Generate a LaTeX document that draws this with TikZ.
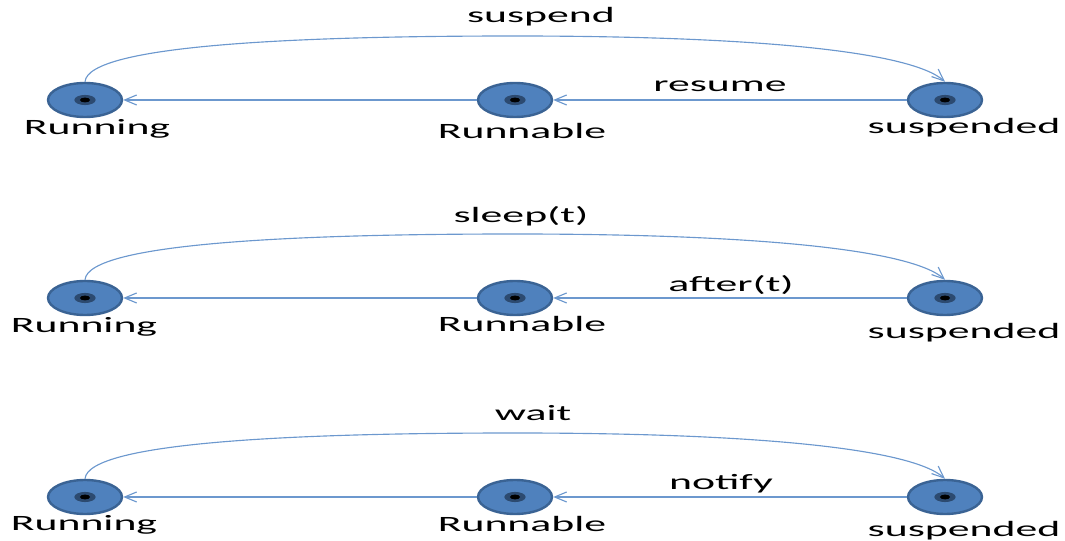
\documentclass[tikz,border=0pt]{standalone}
\usepackage{fontspec}
\usetikzlibrary{shapes.geometric,arrows.meta}
\newfontfamily\lblfont{Carlito}[FakeStretch=2.0]

\definecolor{stateblue}{HTML}{4F81BD}
\definecolor{stateedge}{HTML}{3A6394}
\definecolor{statecore}{HTML}{2C4A70}
\definecolor{linkblue}{HTML}{6C98CE}

\tikzset{
  state/.style={ellipse, fill=stateblue, draw=stateedge, line width=1.8pt,
    minimum width=55.5pt, minimum height=25.5pt, inner sep=0pt,
    path picture={
      \fill[statecore] (path picture bounding box.center) ellipse (8pt and 3.8pt);
      \fill[black] (path picture bounding box.center) ellipse (3.8pt and 1.8pt);
    }},
  lbl/.style={anchor=base, inner sep=0pt, font=\lblfont\fontsize{16.4pt}{19pt}\selectfont},
  conn/.style={draw=linkblue, line width=0.85pt,
    -{Straight Barb[length=9pt,width=7.5pt,line width=0.85pt]}},
}

\begin{document}
\begin{tikzpicture}[x=0.75pt, y=-0.75pt]
\useasboundingbox (0,0) rectangle (1065,541);

% three rows: Running <- Runnable <- suspended, with an arc Running -> suspended
\foreach \r/\dy/\top/\back/\tx/\ty/\bx/\by/\rlx/\rly/\nly/\sly in {
    1/0/suspend/resume/541/23/720/92/97/135/139/134,
    2/198/sleep(t)/after(t)/521/223/731/292/84/333/332/339,
    3/397/wait/notify/533/421/721/490/84/531/532/537}{
  \node[state] (run\r) at (85,100+\dy) {};
  \node[state] (rnb\r) at (515,100+\dy) {};
  \node[state] (sus\r) at (945,100+\dy) {};
  \coordinate (peak\r) at (515,36+\dy);

  \node[lbl] (runl\r) at (\rlx,\rly) {Running};
  \node[lbl] (rnbl\r) at (522,\nly) {Runnable};
  \node[lbl] (susl\r) at (964,\sly) {suspended};
  \node[lbl] (topl\r) at (\tx,\ty) {\top};
  \node[lbl] (backl\r) at (\bx,\by) {\back};

  \draw[conn] (sus\r) -- (rnb\r);
  \draw[conn] (rnb\r) -- (run\r);
  \draw[conn] (run\r.north) .. controls +(3,-37) and +(-215,0) .. (peak\r)
              .. controls +(235,0) and +(-35,-31) .. (sus\r.north);
}
\end{tikzpicture}
\end{document}
